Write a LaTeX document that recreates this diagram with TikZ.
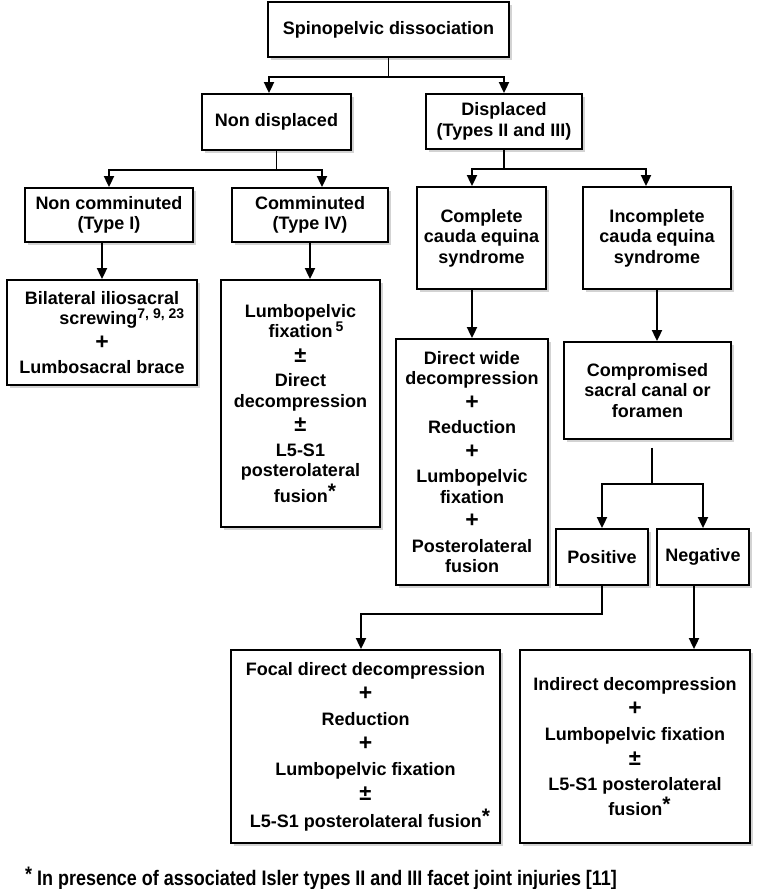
\documentclass[tikz,border=0pt]{standalone}
\usepackage{fontspec}
\setmainfont{Liberation Sans}
\newfontfamily\narrowfont[FakeStretch=0.855]{Liberation Sans}
\usetikzlibrary{arrows.meta,shadows}

\newcommand{\bigplus}{{\fontsize{23}{20}\selectfont+}}
\newcommand{\bigpm}{{\fontsize{22}{20}\selectfont±}}
\newcommand{\addplus}{\\[4pt]\bigplus\\[4pt]}
\newcommand{\addpm}{\\[4pt]\bigpm\\[4pt]}
\newcommand{\refsup}[1]{\raisebox{6pt}{\fontsize{14}{14}\selectfont#1}}
\newcommand{\starnote}{\raisebox{4pt}{\fontsize{21}{20}\selectfont*}}

\begin{document}
\begin{tikzpicture}[x=1pt, y=-1pt,
    box/.style={draw, line width=1.8pt, fill=white, align=center, inner sep=2pt,
      font=\bfseries\fontsize{18}{20.5}\selectfont,
      drop shadow={shadow xshift=2.5pt, shadow yshift=-2.5pt, opacity=0.35}},
    arr/.style={line width=1.8pt, -{Triangle[width=10pt,length=11pt]}}]
        \useasboundingbox (0,0) rectangle (756,889);

        \node [box, minimum width=241pt, minimum height=55pt] (top)
          at (388.5,29.5) {Spinopelvic dissociation};
        \node [box, minimum width=149pt, minimum height=56pt] (nondisp)
          at (276.5,122) {Non displaced};
        \node [box, minimum width=156pt, minimum height=55pt] (disp)
          at (504,121.5) {Displaced\\(Types II and III)};

        \node [box, minimum width=168pt, minimum height=54pt] (noncomm)
          at (109,215) {Non comminuted\\(Type I)};
        \node [box, minimum width=156pt, minimum height=54pt] (comm)
          at (310,215) {Comminuted\\(Type IV)};
        \node [box, minimum width=129pt, minimum height=102pt] (complete)
          at (481.5,238) {Complete\\cauda equina\\syndrome};
        \node [box, minimum width=148pt, minimum height=102pt] (incomplete)
          at (657,238) {Incomplete\\cauda equina\\syndrome};

        \node [box, minimum width=190pt, minimum height=105pt] (bilat)
          at (102,332.5) {Bilateral iliosacral\\
          \hspace*{2.2em}screwing\refsup{7, 9, 23}\addplus
          Lumbosacral brace};
        \node [box, minimum width=159pt, minimum height=247pt] (lumbo)
          at (300.5,403.5) {Lumbopelvic\\\hspace*{0.6em}fixation\,\refsup{5}\addpm
          Direct\\decompression\addpm L5-S1\\posterolateral\\[3pt]
          \hspace*{0.5em}fusion\starnote};
        \node [box, minimum width=152pt, minimum height=246pt] (wide)
          at (472,462) {Direct wide\\decompression\addplus Reduction\addplus
          Lumbopelvic\\fixation\addplus Posterolateral\\fusion};
        \node [box, minimum width=167pt, minimum height=97pt] (compromised)
          at (647.5,390.5) {Compromised\\sacral canal or\\foramen};

        \node [box, minimum width=92pt, minimum height=56pt] (pos)
          at (602,557) {Positive};
        \node [box, minimum width=92pt, minimum height=56pt] (neg)
          at (703,557) {Negative};

        \node [box, font=\bfseries\fontsize{18}{25}\selectfont,
          minimum width=269pt, minimum height=193pt] (focal)
          at (365.5,746.5) {Focal direct decompression\\\bigplus\\Reduction\\
          \bigplus\\Lumbopelvic fixation\\\bigpm\\[2pt]
          \hspace*{0.5em}L5-S1 posterolateral fusion\starnote};
        \node [box, font=\bfseries\fontsize{18}{25}\selectfont,
          minimum width=230pt, minimum height=193pt] (indirect)
          at (635,746.5) {Indirect decompression\\\bigplus\\Lumbopelvic fixation\\
          \bigpm\\L5-S1 posterolateral\\\hspace*{0.5em}fusion\starnote};

        \draw [arr] (top.south) -- ++(0,19) -| ([xshift=-7.5pt]nondisp.north);
        \draw [arr] (top.south) -- ++(0,19) -| (disp.north);
        \draw [arr] (nondisp.south) -- ++(0,19) -| (noncomm.north);
        \draw [arr] (nondisp.south) -- ++(0,19) -| ([xshift=12pt]comm.north);
        \draw [arr] (disp.south) -- ++(0,19) -| ([xshift=-9.5pt]complete.north);
        \draw [arr] (disp.south) -- ++(0,19) -| ([xshift=-11pt]incomplete.north);

        \draw [arr] (noncomm.south -| bilat.north) -- (bilat.north);
        \draw [arr] (comm.south) -- (comm.south |- lumbo.north);
        \draw [arr] (complete.south -| wide.north) -- (wide.north);
        \draw [arr] (incomplete.south) -- (incomplete.south |- compromised.north);

        \draw [arr] ([shift={(4.5,8)}]compromised.south) -- ++(0,36) -| (pos.north);
        \draw [arr] ([shift={(4.5,8)}]compromised.south) -- ++(0,36) -| (neg.north);
        \draw [arr] (pos.south) -- ++(0,28) -| ([xshift=-4.5pt]focal.north);
        \draw [arr] ([xshift=-9pt]neg.south) -- ([xshift=-9pt]neg.south |- indirect.north);

        \node [anchor=base west, inner sep=0pt,
          font=\narrowfont\bfseries\fontsize{21}{24}\selectfont] (note)
          at (25,885) {\raisebox{4pt}{*} In presence of associated Isler types II
          and III facet joint injuries [11]};
\end{tikzpicture}
\end{document}
